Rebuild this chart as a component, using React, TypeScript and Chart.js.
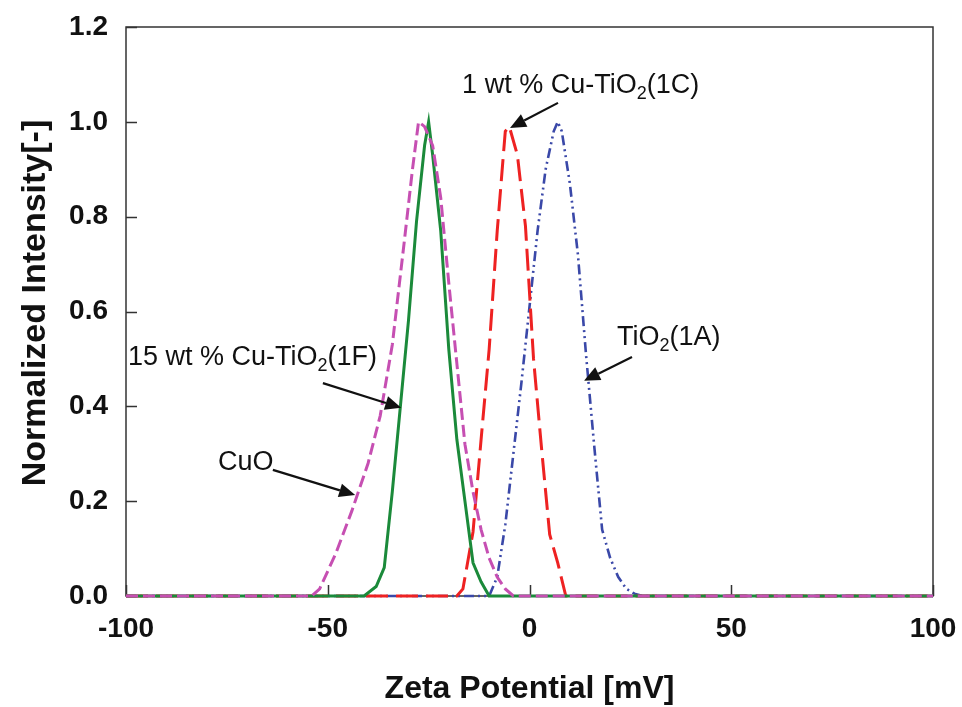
import React, { useEffect, useRef } from "react";
import { Chart, registerables } from "chart.js";

Chart.register(...registerables);

// ---- Tick values ----
const xTicks = [-100, -50, 0, 50, 100];
const yTicks = [0, 0.2, 0.4, 0.6, 0.8, 1.0, 1.2];

// ---- Series: CuO (magenta dashed) ----
const cuoX = [-100, -54, -52, -48, -44, -40, -37, -34, -31, -29, -27.5, -26, -24, -22, -20, -18, -16, -14, -12, -10, -8, -6, -4, 100];
const cuoY = [0, 0, 0.015, 0.09, 0.18, 0.28, 0.38, 0.53, 0.75, 0.9, 1.0, 0.99, 0.95, 0.84, 0.66, 0.49, 0.32, 0.22, 0.14, 0.08, 0.04, 0.015, 0, 0];

// ---- Series: 15 wt % Cu-TiO2 (1F) (green solid) ----
const f1X = [-100, -41, -38, -36, -34, -32, -30, -28, -26, -25, -24, -22, -20, -18, -16, -14, -12, -10, 100];
const f1Y = [0, 0, 0.02, 0.06, 0.22, 0.4, 0.58, 0.79, 0.95, 1.0, 0.93, 0.77, 0.52, 0.33, 0.2, 0.07, 0.03, 0, 0];

// ---- Series: 1 wt % Cu-TiO2 (1C) (red long dash) ----
const c1X = [-100, -18, -16.5, -14, -12, -10, -8, -6, -5, -3, -1, 1, 3, 5, 7, 9, 100];
const c1Y = [0, 0, 0.015, 0.135, 0.33, 0.52, 0.77, 0.98, 0.99, 0.93, 0.78, 0.5, 0.31, 0.13, 0.07, 0, 0];

// ---- Series: TiO2 (1A) (blue dash-dot-dot) ----
const a1X = [-100, -10, -8, -6, -4, -2, 0, 2, 4, 6, 7, 8, 10, 12, 14, 16, 18, 20, 22, 24, 26, 28, 100];
const a1Y = [0, 0, 0.04, 0.15, 0.3, 0.45, 0.61, 0.77, 0.9, 0.98, 1.0, 0.98, 0.87, 0.72, 0.51, 0.32, 0.14, 0.08, 0.04, 0.015, 0.005, 0, 0];

// ---- Annotation texts (segments; sub = subscript) ----
type Seg = { t: string; sub?: boolean };
const notes: { segs: Seg[]; tx: number; ty: number; ax: number; ay: number; hx: number; hy: number }[] = [
  { segs: [{ t: "1 wt % Cu-TiO" }, { t: "2", sub: true }, { t: "(1C)" }], tx: -16.7, ty: 1.061, ax: 7.06, ay: 1.04, hx: -4.83, hy: 0.987 },
  { segs: [{ t: "TiO" }, { t: "2", sub: true }, { t: "(1A)" }], tx: 21.7, ty: 0.53, ax: 25.4, ay: 0.504, hx: 13.5, hy: 0.454 },
  { segs: [{ t: "15 wt % Cu-TiO" }, { t: "2", sub: true }, { t: "(1F)" }], tx: -99.5, ty: 0.487, ax: -51.2, ay: 0.449, hx: -31.8, hy: 0.397 },
  { segs: [{ t: "CuO" }], tx: -77.2, ty: 0.266, ax: -63.6, ay: 0.266, hx: -43.2, hy: 0.213 },
];

const xTitle = "Zeta Potential [mV]";
const yTitle = "Normalized Intensity[-]";

const FONT = '"Liberation Sans", Arial, sans-serif';

const toPts = (xs: number[], ys: number[]) => xs.map((x, i) => ({ x, y: ys[i] }));

const framePlugin = {
  id: "frame",
  beforeDatasetsDraw(chart: any) {
    const { ctx, chartArea: a, scales } = chart;
    const x = scales.x;
    const y = scales.y;
    ctx.save();
    ctx.strokeStyle = "#333";
    ctx.lineWidth = 1.5;
    ctx.strokeRect(a.left, a.top, a.right - a.left, a.bottom - a.top);
    ctx.beginPath();
    yTicks.forEach((v) => {
      const py = Math.round(y.getPixelForValue(v)) + 0.5;
      ctx.moveTo(a.left, py);
      ctx.lineTo(a.left + 11, py);
    });
    xTicks.forEach((v) => {
      const px = Math.round(x.getPixelForValue(v)) + 0.5;
      ctx.moveTo(px, a.bottom);
      ctx.lineTo(px, a.bottom - 11);
    });
    ctx.stroke();

    // axis titles
    ctx.fillStyle = "#111";
    ctx.font = `bold 32px ${FONT}`;
    ctx.textAlign = "center";
    ctx.textBaseline = "alphabetic";
    ctx.fillText(xTitle, (a.left + a.right) / 2, 698);
    ctx.save();
    ctx.translate(45, 303);
    ctx.rotate(-Math.PI / 2);
    ctx.font = `bold 34px ${FONT}`;
    ctx.fillText(yTitle, 0, 0);
    ctx.restore();
    ctx.restore();
  },
  afterDatasetsDraw(chart: any) {
    const { ctx, scales } = chart;
    const x = scales.x;
    const y = scales.y;
    ctx.save();
    ctx.fillStyle = "#111";
    ctx.strokeStyle = "#111";
    ctx.textAlign = "left";
    ctx.textBaseline = "alphabetic";
    notes.forEach((n) => {
      let px = x.getPixelForValue(n.tx);
      const py = y.getPixelForValue(n.ty);
      n.segs.forEach((s) => {
        ctx.font = s.sub ? `18px ${FONT}` : `27px ${FONT}`;
        ctx.fillText(s.t, px, s.sub ? py + 6 : py);
        px += ctx.measureText(s.t).width;
      });
      // arrow
      const sx = x.getPixelForValue(n.ax);
      const sy = y.getPixelForValue(n.ay);
      const hx = x.getPixelForValue(n.hx);
      const hy = y.getPixelForValue(n.hy);
      const ang = Math.atan2(hy - sy, hx - sx);
      const L = 16;
      const W = 7;
      const bx = hx - L * Math.cos(ang);
      const by = hy - L * Math.sin(ang);
      ctx.lineWidth = 2.2;
      ctx.beginPath();
      ctx.moveTo(sx, sy);
      ctx.lineTo(bx, by);
      ctx.stroke();
      ctx.beginPath();
      ctx.moveTo(hx, hy);
      ctx.lineTo(bx + W * Math.sin(ang), by - W * Math.cos(ang));
      ctx.lineTo(bx - W * Math.sin(ang), by + W * Math.cos(ang));
      ctx.closePath();
      ctx.fill();
    });
    ctx.restore();
  },
};

export default function App() {
  const ref = useRef<HTMLCanvasElement | null>(null);
  useEffect(() => {
    if (!ref.current) return;
    const chart = new Chart(ref.current, {
      type: "line",
      data: {
        datasets: [
          {
            label: "CuO",
            data: toPts(cuoX, cuoY),
            borderColor: "#c64fb2",
            borderWidth: 3,
            borderDash: [12, 5],
            pointRadius: 0,
            tension: 0,
            clip: 8,
          },
          {
            label: "15 wt % Cu-TiO2(1F)",
            data: toPts(f1X, f1Y),
            borderColor: "#1b8a3a",
            borderWidth: 3,
            pointRadius: 0,
            tension: 0,
            clip: 8,
          },
          {
            label: "1 wt % Cu-TiO2(1C)",
            data: toPts(c1X, c1Y),
            borderColor: "#ee2222",
            borderWidth: 3,
            borderDash: [22, 8],
            pointRadius: 0,
            tension: 0,
            clip: 8,
          },
          {
            label: "TiO2(1A)",
            data: toPts(a1X, a1Y),
            borderColor: "#3a48a8",
            borderWidth: 2.6,
            borderDash: [10, 4, 2, 4, 2, 4],
            pointRadius: 0,
            tension: 0,
            clip: 8,
          },
        ],
      },
      options: {
        animation: false,
        responsive: false,
        events: [],
        layout: { padding: { top: 27, right: 29, left: 0, bottom: 0 } },
        plugins: { legend: { display: false }, tooltip: { enabled: false } },
        scales: {
          x: {
            type: "linear",
            min: -100,
            max: 100,
            afterBuildTicks: (s: any) => {
              s.ticks = xTicks.map((v) => ({ value: v }));
            },
            afterFit: (s: any) => {
              s.height = 111;
              s.paddingLeft = 0;
              s.paddingRight = 0;
              s.paddingTop = 0;
              s.paddingBottom = 0;
            },
            grid: { display: false, drawTicks: false },
            border: { display: false },
            ticks: {
              padding: 16,
              color: "#111",
              font: { family: FONT, size: 28, weight: "bold" },
              maxRotation: 0,
              autoSkip: false,
              callback: (v: any) => String(v),
            },
          },
          y: {
            type: "linear",
            min: 0,
            max: 1.2,
            afterBuildTicks: (s: any) => {
              s.ticks = yTicks.map((v) => ({ value: v }));
            },
            afterFit: (s: any) => {
              s.width = 126;
              s.paddingLeft = 0;
              s.paddingRight = 0;
              s.paddingTop = 0;
              s.paddingBottom = 0;
            },
            grid: { display: false, drawTicks: false },
            border: { display: false },
            ticks: {
              padding: 18,
              color: "#111",
              font: { family: FONT, size: 28, weight: "bold" },
              autoSkip: false,
              callback: (v: any) => Number(v).toFixed(1),
            },
          },
        },
      },
      plugins: [framePlugin],
    } as any);
    return () => chart.destroy();
  }, []);
  return (
    <div style={{ position: "fixed", left: 0, top: 0, width: 962, height: 707, background: "#fff" }}>
      <canvas ref={ref} width={962} height={707} style={{ display: "block" }} />
    </div>
  );
}
